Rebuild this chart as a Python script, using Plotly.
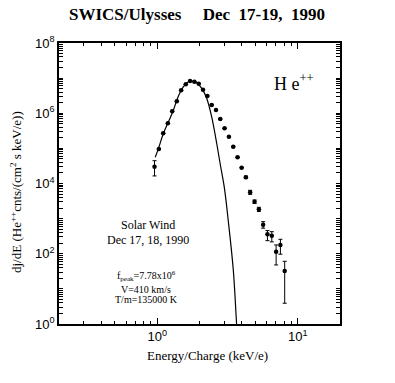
import plotly.graph_objects as go

# Measured He++ spectrum (Energy/Charge in keV/e, dj/dE)
energy = [0.957, 1.028, 1.103, 1.191, 1.278, 1.379, 1.480, 1.598, 1.714, 1.839,
          1.976, 2.119, 2.274, 2.443, 2.621, 2.810, 3.017, 3.240, 3.477, 3.732,
          3.990, 4.277, 4.587, 4.930, 5.292, 5.675, 6.09, 6.54, 7.02, 7.53, 8.08]
flux = [3.0e4, 9.6e4, 2.69e5, 5.17e5, 1.14e6, 2.19e6, 4.50e6, 6.67e6, 8.28e6, 7.91e6,
        6.94e6, 4.69e6, 3.10e6, 1.72e6, 1.24e6, 6.85e5, 3.73e5, 2.15e5, 1.12e5, 5.57e4,
        2.82e4, 1.50e4, 5.62e3, 3.04e3, 1.84e3, 672, 358, 327, 114, 177, 32.3]
flux_hi = [4.46e4, 9.6e4, 2.69e5, 5.17e5, 1.14e6, 2.19e6, 4.50e6, 6.67e6, 8.28e6, 7.91e6,
           6.94e6, 4.69e6, 3.10e6, 1.72e6, 1.24e6, 6.85e5, 3.73e5, 2.15e5, 1.12e5, 5.57e4,
           2.82e4, 1.62e4, 6.4e3, 3.4e3, 2.1e3, 818, 457, 425, 178, 258, 61]
flux_lo = [1.64e4, 9.6e4, 2.69e5, 5.17e5, 1.14e6, 2.19e6, 4.50e6, 6.67e6, 8.28e6, 7.91e6,
           6.94e6, 4.69e6, 3.10e6, 1.72e6, 1.24e6, 6.85e5, 3.73e5, 2.15e5, 1.12e5, 5.57e4,
           2.82e4, 1.38e4, 4.9e3, 2.7e3, 1.6e3, 535, 236, 218, 48, 97, 3.9]

# Solar wind Maxwellian fit curve
fit_energy = [0.968, 1.021, 1.108, 1.203, 1.305, 1.416, 1.537, 1.667, 1.762, 1.912,
              2.075, 2.25, 2.44, 2.65, 2.83, 3.01, 3.20, 3.48, 3.67, 3.75]
fit_flux = [5.57e4, 1.0e5, 2.69e5, 5.74e5, 1.24e6, 3.10e6, 5.70e6, 7.91e6, 8.2e6, 7.41e6,
            5.13e6, 2.67e6, 7.98e5, 1.40e5, 3.0e4, 7.3e3, 914, 34.4, 1.05, 0.3]

# Y axis: every decade and every 2..9 multiple gets a tick, labels on even decades
y_tickvals = []
y_ticktext = []
for d in range(0, 9):
    y_tickvals.append(10 ** d)
    y_ticktext.append("10<sup>%d</sup>" % d if d % 2 == 0 else "")
    if d < 8:
        for m in range(2, 10):
            y_tickvals.append(m * 10 ** d)
            y_ticktext.append("")

x_tickvals = [1, 10]
x_ticktext = ["10<sup>0</sup>", "10<sup>1</sup>"]
x_minor = [m * 10 ** d for d in range(-1, 2) for m in range(2, 10)]

W, H = 395, 383
L, R, T, B = 59, 340, 43, 324

def px(x):
    return (x - L) / (R - L)

def py(y):
    return (B - y) / (B - T)

serif = "Liberation Serif"
sans = "Liberation Sans"

fig = go.Figure()
fig.add_trace(go.Scatter(
    x=fit_energy, y=fit_flux, mode="lines", line=dict(color="black", width=1.2, shape="spline"),
    showlegend=False, hoverinfo="skip"))
fig.add_trace(go.Scatter(
    x=energy, y=flux, mode="markers",
    marker=dict(color="black", size=4.5, symbol="circle"),
    error_y=dict(type="data", symmetric=False,
                 array=[h - f for h, f in zip(flux_hi, flux)],
                 arrayminus=[f - l for f, l in zip(flux, flux_lo)],
                 color="black", thickness=1, width=2),
    showlegend=False))

fig.update_xaxes(type="log", range=[-0.699, 1.301], tickmode="array",
                 tickvals=x_tickvals, ticktext=x_ticktext, ticklen=6,
                 showgrid=False, zeroline=False, showline=True, linecolor="black", linewidth=1.6,
                 mirror="allticks", ticks="inside", tickwidth=1.2, tickcolor="black",
                 tickfont=dict(family=sans, size=13, color="black"),
                 minor=dict(ticks="inside", ticklen=3.5, tickwidth=1.2, tickcolor="black",
                            tickmode="array", tickvals=x_minor, showgrid=False))
fig.update_yaxes(type="log", range=[0, 8], tickmode="array",
                 tickvals=y_tickvals, ticktext=y_ticktext, ticklen=4,
                 showgrid=False, zeroline=False, showline=True, linecolor="black", linewidth=1.6,
                 mirror="allticks", ticks="inside", tickwidth=1.2, tickcolor="black",
                 tickfont=dict(family=sans, size=13, color="black"))

ann = [
    dict(text="<b>SWICS/Ulysses\u00a0\u00a0\u00a0\u00a0 Dec\u00a0 17-19,\u00a0 1990</b>",
         x=px(196.5), y=py(14), font=dict(family=serif, size=17, color="black")),
    dict(text="dj/dE (He<sup>++</sup>cnts/(cm<sup>2</sup> s keV/e))",
         x=px(16), y=py(192), textangle=-90,
         font=dict(family=serif, size=13, color="black")),
    dict(text="Energy/Charge (keV/e)", x=px(207), y=py(355),
         font=dict(family=serif, size=13, color="black")),
    dict(text="H e<sup>++</sup>", x=px(294), y=py(82),
         font=dict(family=serif, size=18, color="black")),
    dict(text="Solar Wind", x=px(148), y=py(225),
         font=dict(family=serif, size=12, color="black")),
    dict(text="Dec 17, 18, 1990", x=px(148), y=py(240),
         font=dict(family=serif, size=12, color="black")),
    dict(text="f<sub>peak</sub>=7.78x10<sup>6</sup>", x=px(146), y=py(276),
         font=dict(family=serif, size=10, color="black")),
    dict(text="V=410 km/s", x=px(146), y=py(289),
         font=dict(family=serif, size=10, color="black")),
    dict(text="T/m=135000 K", x=px(146.7), y=py(299),
         font=dict(family=serif, size=10, color="black")),
]
for a in ann:
    a["xref"] = "paper"
    a["yref"] = "paper"
    a["showarrow"] = False
    a["xanchor"] = "center"
    a["yanchor"] = "middle"

fig.update_layout(
    width=W, height=H,
    margin=dict(l=L, r=W - R, t=T, b=H - B),
    paper_bgcolor="white", plot_bgcolor="white",
    annotations=ann,
)

fig.write_html("out.html", config={"displayModeBar": False},
               post_script="document.body.style.margin='0';")
